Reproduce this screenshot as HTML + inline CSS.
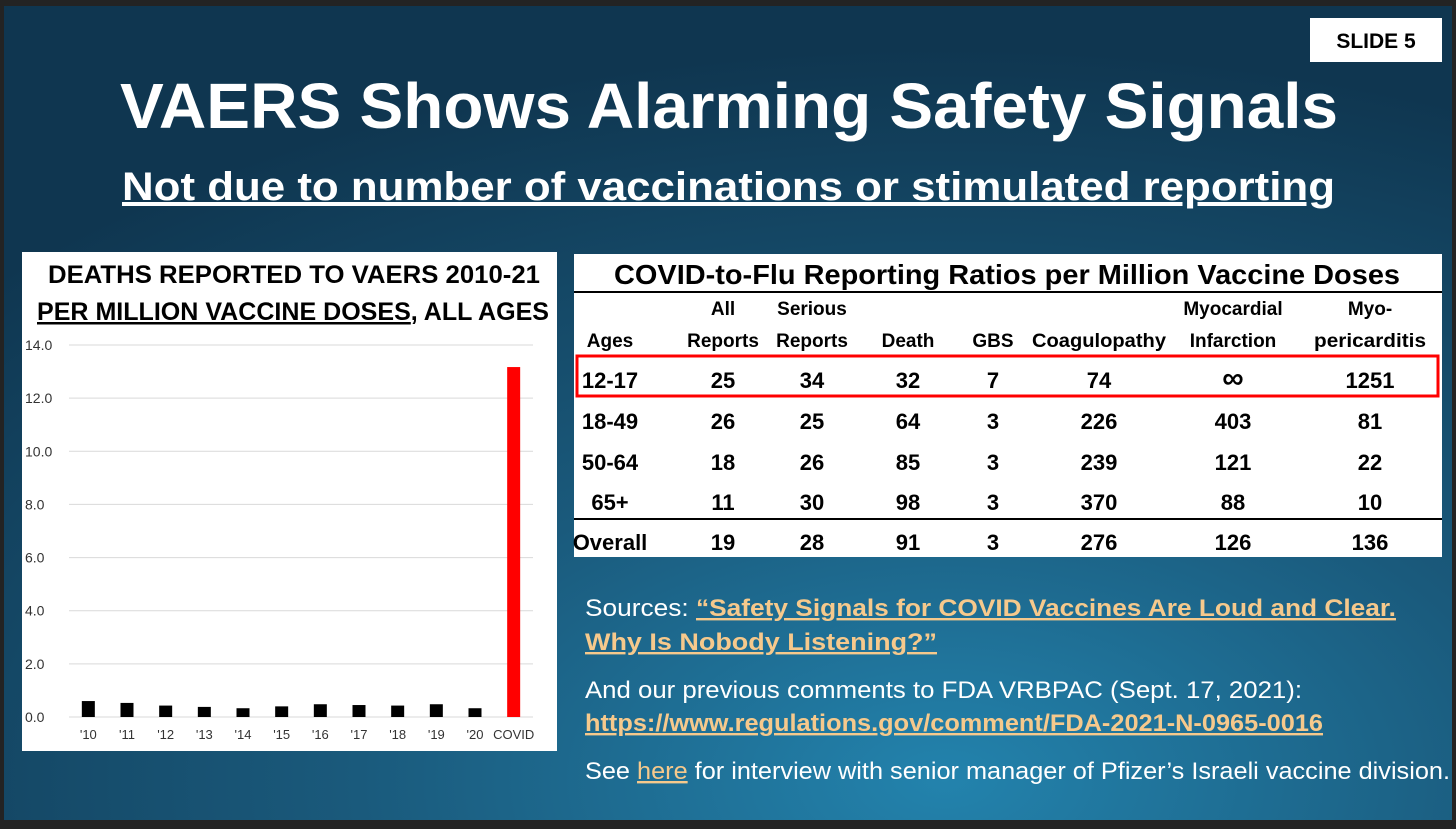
<!DOCTYPE html>
<html><head><meta charset="utf-8"><style>
html,body{margin:0;padding:0;background:#222;}
svg{display:block;font-family:"Liberation Sans",sans-serif;}
</style></head><body>
<svg width="1456" height="829" viewBox="0 0 1456 829" xmlns="http://www.w3.org/2000/svg">
<defs>
<radialGradient id="bg" cx="0.65" cy="0.95" r="0.9">
<stop offset="0" stop-color="#2383ad"/><stop offset="0.45" stop-color="#1a5a7c"/><stop offset="1" stop-color="#0f3650"/>
</radialGradient>
</defs>
<rect x="0" y="0" width="1456" height="829" fill="#232323"/>
<rect x="4" y="6" width="1448" height="814" fill="url(#bg)"/>
<g>
<rect x="1310" y="18" width="132" height="44" fill="#fff"/>
<text x="1376" y="48" text-anchor="middle" font-weight="bold" font-size="21" fill="#000">SLIDE 5</text>
</g>
<text x="120" y="128" textLength="1218" lengthAdjust="spacingAndGlyphs" font-size="64" font-weight="bold" fill="#fff">VAERS Shows Alarming Safety Signals</text>
<text x="122" y="200" textLength="1213" lengthAdjust="spacingAndGlyphs" font-size="40" font-weight="bold" fill="#fff" text-decoration="underline">Not due to number of vaccinations or stimulated reporting</text>

<g>
<rect x="22" y="252" width="535" height="499" fill="#fff"/>
<text x="48" y="283" textLength="492" lengthAdjust="spacingAndGlyphs" font-size="25" font-weight="bold" fill="#000">DEATHS REPORTED TO VAERS 2010-21</text>
<text x="37" y="320" textLength="512" lengthAdjust="spacingAndGlyphs" font-size="25" font-weight="bold" fill="#000"><tspan text-decoration="underline">PER MILLION VACCINE DOSES</tspan>, ALL AGES</text>
<g id="grid"></g><g id="bars"></g><g id="xlab"></g>
</g>

<g>
<rect x="574" y="254" width="868" height="303" fill="#fff"/>
<text x="614" y="284" textLength="786" lengthAdjust="spacingAndGlyphs" font-size="28" font-weight="bold" fill="#000">COVID-to-Flu Reporting Ratios per Million Vaccine Doses</text>
<rect x="574" y="291" width="868" height="2" fill="#000"/>
<rect x="574" y="518" width="868" height="2" fill="#000"/>
<rect x="577" y="356" width="861" height="40" fill="none" stroke="#f00" stroke-width="3"/>
<g id="tbl" font-weight="bold" fill="#000" text-anchor="middle"></g>
</g>

<g font-size="24">
<text x="585" y="616" textLength="811" lengthAdjust="spacingAndGlyphs" fill="#fff">Sources: <tspan fill="#f6c98c" font-weight="bold" text-decoration="underline">“Safety Signals for COVID Vaccines Are Loud and Clear.</tspan></text>
<text x="585" y="650" textLength="352" lengthAdjust="spacingAndGlyphs" fill="#f6c98c" font-weight="bold" text-decoration="underline">Why Is Nobody Listening?”</text>
<text x="585" y="698" textLength="717" lengthAdjust="spacingAndGlyphs" fill="#fff">And our previous comments to FDA VRBPAC (Sept. 17, 2021):</text>
<text x="585" y="731" textLength="738" lengthAdjust="spacingAndGlyphs" fill="#f6c98c" font-weight="bold" text-decoration="underline">https://www.regulations.gov/comment/FDA-2021-N-0965-0016</text>
<text x="585" y="779" textLength="865" lengthAdjust="spacingAndGlyphs" fill="#fff">See <tspan fill="#f6c98c" text-decoration="underline">here</tspan> for interview with senior manager of Pfizer’s Israeli vaccine division.</text>
</g>
</svg>
<script>
const categories=["'10","'11","'12","'13","'14","'15","'16","'17","'18","'19","'20","COVID"];
const values=[0.6,0.53,0.43,0.38,0.33,0.40,0.48,0.45,0.43,0.48,0.33,13.17];
const yTicks=[0,2,4,6,8,10,12,14];
const tblHeaders1=["","All","Serious","","","","Myocardial","Myo-"];
const tblHeaders2=["Ages","Reports","Reports","Death","GBS","Coagulopathy","Infarction","pericarditis"];
const tblRows=[
["12-17","25","34","32","7","74","∞","1251"],
["18-49","26","25","64","3","226","403","81"],
["50-64","18","26","85","3","239","121","22"],
["65+","11","30","98","3","370","88","10"],
["Overall","19","28","91","3","276","126","136"]];
const NS="http://www.w3.org/2000/svg";
const x0=69,x1=533,y0=717,y1=345,yMax=14;
const bw=(x1-x0)/categories.length;
const yS=v=>y0-(v/yMax)*(y0-y1);
const xS=i=>x0+bw*(i+0.5);
function mk(t,a,p){const e=document.createElementNS(NS,t);for(const k in a)e.setAttribute(k,a[k]);p.appendChild(e);return e;}
const grid=document.getElementById('grid');
yTicks.forEach(t=>{
 const l=mk('line',{x1:x0,x2:x1,y1:yS(t),y2:yS(t),stroke:'#d9d9d9','stroke-width':1},grid);
 
 
 const tx=mk('text',{x:25,y:yS(t)+5,'font-size':14,fill:'#333'},grid);
 tx.textContent=t.toFixed(1);
 
 
});
const bars=document.getElementById('bars'),xl=document.getElementById('xlab');
values.forEach((v,i)=>{
 const r=mk('rect',{x:xS(i)-6.5,y:yS(v),width:13,height:y0-yS(v),fill:categories[i]==='COVID'?'#ff0000':'#000'},bars);
 
 
 const t=mk('text',{x:xS(i),y:739,'font-size':13,fill:'#333','text-anchor':'middle'},xl);
 t.textContent=categories[i];
 
 
});
const colX=[610,723,812,908,993,1099,1233,1370];
const tbl=document.getElementById('tbl');
tblHeaders1.forEach((h,i)=>{if(!h)return;const t=mk('text',{x:colX[i],y:315,'font-size':19},tbl);t.textContent=h;
 
 });
tblHeaders2.forEach((h,i)=>{const t=mk('text',{x:colX[i],y:347,'font-size':19},tbl);t.textContent=h;
 if(h==='Coagulopathy'){t.setAttribute('textLength',134);t.setAttribute('lengthAdjust','spacingAndGlyphs');}
 if(h==='pericarditis'){t.setAttribute('textLength',112);t.setAttribute('lengthAdjust','spacingAndGlyphs');}
 
 });
const rowY=[388,429,470,510,550];
tblRows.forEach((row,r)=>row.forEach((c,i)=>{
 const t=mk('text',{x:colX[i],y:rowY[r],'font-size':c==='∞'?30:22},tbl);t.textContent=c;
 
 
}));
</script>
</body></html>
